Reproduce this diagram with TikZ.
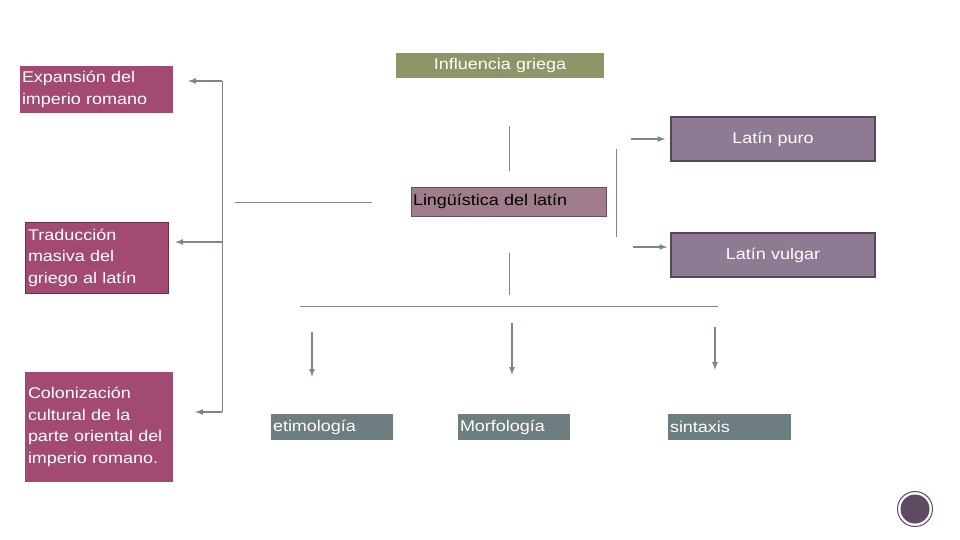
\documentclass[tikz,border=0pt]{standalone}
\usepackage{fontspec}
\setmainfont{Liberation Sans}[FakeStretch=1.16]
\usetikzlibrary{arrows}

\definecolor{rosa}{RGB}{163,74,114}
\definecolor{rosaosc}{RGB}{110,45,80}
\definecolor{oliva}{RGB}{142,149,102}
\definecolor{malva}{RGB}{143,122,147}
\definecolor{malvaosc}{RGB}{88,70,92}
\definecolor{ling}{RGB}{160,125,140}
\definecolor{lingosc}{RGB}{115,75,95}
\definecolor{gris}{RGB}{110,125,127}
\definecolor{linea}{RGB}{125,135,135}
\definecolor{morado}{RGB}{94,74,99}

\begin{document}
\begin{tikzpicture}[x=1pt,y=-1pt]
\tikzstyle{caja}=[inner sep=2pt,align=left,font=\fontsize{15.5}{21.5}\selectfont,text=white]
\tikzstyle{linea}=[draw=linea,line width=0.8pt]
\tikzstyle{flecha}=[draw=linea,line width=1.6pt,-latex]
\useasboundingbox (0,0) rectangle (960,540);

% cajas
\node[caja,fill=rosa,text width=149pt,minimum height=47pt] (exp) at (96.5,89.5) {Expansión del\\imperio romano};
\node[caja,fill=rosa,draw=rosaosc,inner xsep=3pt,text width=137pt,minimum height=71pt] (trad) at (96.5,257.5) {Traducción\\masiva del\\griego al latín};
\node[caja,fill=rosa,inner xsep=3pt,text width=142pt,minimum height=110pt] (colo) at (99,427) {Colonización\\cultural de la\\parte oriental del\\imperio romano.};
\node[caja,fill=oliva,align=center,text width=204pt,minimum height=25pt] (infl) at (500,65.5) {Influencia griega};
\node[caja,fill=ling,draw=lingosc,line width=1pt,text=black,text width=191pt,minimum height=29pt] (lat) at (508.5,201.5) {Lingüística del latín};
\node[caja,fill=malva,draw=malvaosc,line width=1.5pt,align=center,text width=200pt,minimum height=44pt] (puro) at (773,139) {Latín puro};
\node[caja,fill=malva,draw=malvaosc,line width=1.5pt,align=center,text width=200pt,minimum height=44pt] (vulg) at (773,255) {Latín vulgar};
\node[caja,fill=gris,text width=118pt,minimum height=26pt] (etim) at (332,427) {etimología};
\node[caja,fill=gris,text width=108pt,minimum height=26pt] (morf) at (514,427) {Morfología};
\node[caja,fill=gris,text width=119pt,minimum height=26pt] (sint) at (729.5,427) {sintaxis};

% marca
\node[circle,draw=morado,line width=1pt,minimum size=35pt] (anillo) at (915,509) {};
\node[circle,fill=morado,minimum size=29pt] (marca) at (anillo) {};

% puntos sueltos
\coordinate (l1) at (222,81);
\coordinate (l2) at (222,242);
\coordinate (l3) at (222,412);
\coordinate (h1) at (235,202);
\coordinate (h2) at (372,202);
\coordinate (v1) at (509,126);
\coordinate (v2) at (509,171);
\coordinate (r0) at (616,149);
\coordinate (r3) at (616,237);
\coordinate (r1) at (631,139);
\coordinate (r2) at (633,247);
\coordinate (v3) at (509,253);
\coordinate (v4) at (509,295);
\coordinate (b1) at (300,306);
\coordinate (b2) at (718,306);
\coordinate (d1) at (312,332);
\coordinate (d2) at (512,323);
\coordinate (d3) at (715,327);

% lineas
\draw[linea] (l1) -- (l3);
\draw[flecha,shorten >=15pt] (l1) -- (l1 -| exp.east);
\draw[flecha,shorten >=7pt] (l2) -- (l2 -| trad.east);
\draw[flecha,shorten >=22pt] (l3) -- (l3 -| colo.east);
\draw[linea] (h1) -- (h2);
\draw[linea] (v1) -- (v2);
\draw[linea] (r0) -- (r3);
\draw[flecha,shorten >=5pt] (r1) -- (r1 -| puro.west);
\draw[flecha,shorten >=3pt] (r2) -- (r2 -| vulg.west);
\draw[linea] (v3) -- (v4);
\draw[linea] (b1) -- (b2);
\draw[flecha,shorten >=37pt] (d1) -- (d1 |- etim.north);
\draw[flecha,shorten >=39pt] (d2) -- (d2 |- morf.north);
\draw[flecha,shorten >=44pt] (d3) -- (d3 |- sint.north);
\end{tikzpicture}
\end{document}
